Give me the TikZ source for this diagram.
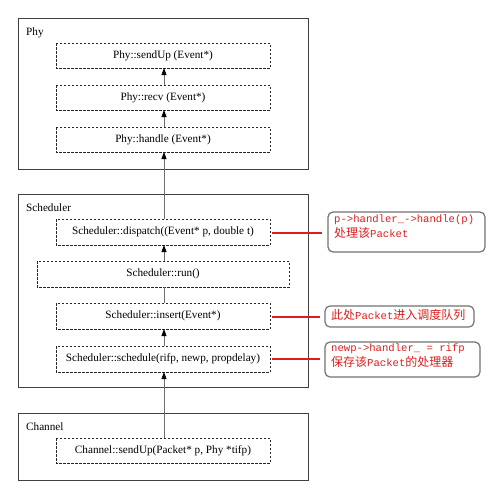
\documentclass[tikz,border=0pt]{standalone}
\usepackage{fontspec}
\setmainfont{Liberation Serif}
\setmonofont{Liberation Mono}
\newfontfamily\cjk{Noto Sans CJK SC}
\usetikzlibrary{arrows.meta}
\definecolor{callred}{RGB}{220,30,30}
\definecolor{linegray}{RGB}{110,110,110}
\newcommand{\zh}[1]{{\cjk\fontsize{12}{13.5}\selectfont #1}}
\tikzset{
  x=1pt, y=-1pt,
  outerbox/.style={draw=black!75, line width=0.8pt},
  funcbox/.style={draw=black!85, dashed, dash pattern=on 2.5pt off 1.5pt, line width=0.6pt},
  grouplabel/.style={anchor=west, inner sep=0pt, font=\fontsize{11.2}{12}\selectfont},
  functext/.style={inner sep=0pt, font=\fontsize{11.2}{12}\selectfont},
  conn/.style={draw=linegray, line width=0.8pt},
  arr/.style={conn, -{Triangle[length=7pt,width=5pt,fill=black,color=black]}},
  callout/.style={draw=black!55, rounded corners=5pt, line width=1.2pt},
  calltext/.style={text=callred, anchor=north west, inner sep=0pt, align=left, font=\fontsize{10.6}{15}\ttfamily},
  redline/.style={draw=callred, line width=1.2pt}
}
\begin{document}
\begin{tikzpicture}
\useasboundingbox (0,0) rectangle (500,493);
\fill[white] (0,0) rectangle (500,493);
% group boxes
\draw[outerbox] (18,18) rectangle (308,169);
\node[grouplabel] (lphy) at (26,33) {Phy};
\draw[outerbox] (18,194) rectangle (308,387);
\node[grouplabel] (lsch) at (26,208) {Scheduler};
\draw[outerbox] (18,413) rectangle (308,480);
\node[grouplabel] (lch) at (26,427) {Channel};
% function boxes
\draw[funcbox] (56,43) rectangle (270,68); \node[functext] (sendup) at (163,55.5) {Phy::sendUp (Event*)};
\draw[funcbox] (56,85) rectangle (270,110); \node[functext] (recv) at (163,97.5) {Phy::recv (Event*)};
\draw[funcbox] (56,127) rectangle (270,152); \node[functext] (handle) at (163,139.5) {Phy::handle (Event*)};
\draw[funcbox] (56,219) rectangle (270,245); \node[functext] (dispatch) at (163,232) {Scheduler::dispatch((Event* p, double t)};
\draw[funcbox] (37,261) rectangle (289,287); \node[functext] (run) at (163,274) {Scheduler::run()};
\draw[funcbox] (56,303) rectangle (270,329); \node[functext] (insert) at (163,316) {Scheduler::insert(Event*)};
\draw[funcbox] (56,346) rectangle (270,372); \node[functext] (schedule) at (163,359) {Scheduler::schedule(rifp, newp, propdelay)};
\draw[funcbox] (56,438) rectangle (270,463); \node[functext] (chsend) at (163,450.5) {Channel::sendUp(Packet* p, Phy *tifp)};
% named box edges
\coordinate (sendupB) at (164,68);
\coordinate (recvT) at (164,85);
\coordinate (recvB) at (164,110);
\coordinate (handleT) at (164,127);
\coordinate (handleB) at (164,152);
\coordinate (dispT) at (164,219);
\coordinate (dispB) at (164,245);
\coordinate (runT) at (164,261);
\coordinate (runB) at (164,287);
\coordinate (insT) at (164,303);
\coordinate (insB) at (164,329);
\coordinate (schT) at (164,346);
\coordinate (schB) at (164,372);
\coordinate (chT) at (164,438);
% connectors
\draw[arr] (recvT) -- (sendupB);
\draw[arr] (handleT) -- (recvB);
\draw[arr] (dispT) -- (handleB);
\draw[arr] (runT) -- (dispB);
\draw[conn] (insT) -- (runB);
\draw[arr] (schT) -- (insB);
\draw[arr] (chT) -- (schB);
% callouts
\draw[callout] (328,212) rectangle (485,252);
\node[calltext] (c1) at (334,215) {p->handler\_->handle(p)\\\zh{处理该}Packet};
\draw[callout] (325,306) rectangle (474,327);
\node[calltext] (c2) at (331,309) {\zh{此处}Packet\zh{进入调度队列}};
\draw[callout] (325,342) rectangle (480,377);
\node[calltext] (c3) at (331,344) {newp->handler\_ = rifp\\\zh{保存该}Packet\zh{的处理器}};
\coordinate (dispR) at (272,233);
\coordinate (c1L) at (322,233);
\coordinate (insR) at (272,317);
\coordinate (c2L) at (320,317);
\coordinate (schR) at (272,359);
\coordinate (c3L) at (320,359);
\draw[redline] (dispR) -- (c1L);
\draw[redline] (insR) -- (c2L);
\draw[redline] (schR) -- (c3L);
\end{tikzpicture}
\end{document}
